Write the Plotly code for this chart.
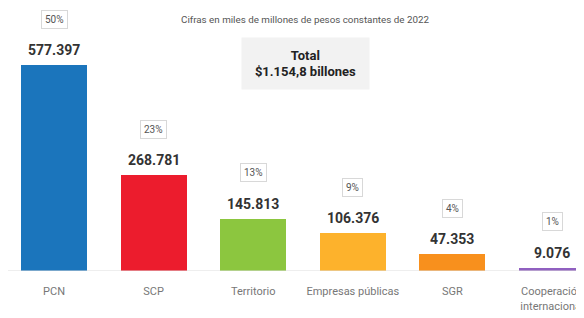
import plotly.graph_objects as go

categories = ["PCN", "SCP", "Territorio", "Empresas públicas", "SGR", "Cooperación<br>internacional"]
values = [577397, 268781, 145813, 106376, 47353, 9076]
percents = [50, 23, 13, 9, 4, 1]
colors = ["#1b75bc", "#ec1c2d", "#8cc63f", "#fdb22c", "#f8901d", "#9060c0"]
subtitle = "Cifras en miles de millones de pesos constantes de 2022"
total_text = "<b>Total<br>$1.154,8 billones</b>"

def fmt(v):
    return f"{v:,}".replace(",", ".")

xs = list(range(len(categories)))

# The page body has an 8px margin, so the figure is sized to fit the window.
W, H = 576, 310
PLOT_H = 263

fig = go.Figure()
fig.add_trace(go.Bar(
    x=xs, y=values, marker=dict(color=colors, line=dict(width=0)),
    width=0.663, hoverinfo="skip", showlegend=False,
))

annotations = []
for i, (v, p) in enumerate(zip(values, percents)):
    annotations.append(dict(
        x=i, y=v, xref="x", yref="y", text=f"<b>{fmt(v)}</b>",
        showarrow=False, yanchor="middle", yshift=15,
        font=dict(family="Roboto", size=14, color="#333333"),
    ))
    annotations.append(dict(
        x=i, y=v, xref="x", yref="y", text=f"{p}%",
        showarrow=False, yanchor="middle", yshift=46,
        font=dict(family="Roboto", size=10, color="#555555"),
        bordercolor="#d8d8d8", borderwidth=1, borderpad=3, bgcolor="white",
    ))

annotations.append(dict(
    x=297 / W, y=1 - 11 / PLOT_H, xref="paper", yref="paper", text=subtitle,
    showarrow=False, xanchor="center", yanchor="middle",
    font=dict(family="Roboto", size=9.8, color="#555555"),
))
annotations.append(dict(
    x=297.5 / W, y=1 - 55.5 / PLOT_H, xref="paper", yref="paper", text=total_text,
    showarrow=False, xanchor="center", yanchor="middle",
    font=dict(family="Roboto", size=13, color="#222222"),
    bgcolor="#f2f2f2", width=123, height=47, borderpad=2,
))

fig.add_shape(type="line", xref="paper", yref="y", x0=0, x1=1, y0=0, y1=0,
              line=dict(color="#dddddd", width=1))

fig.update_layout(
    width=W, height=H,
    margin=dict(l=0, r=0, t=0, b=H - PLOT_H, autoexpand=False),
    paper_bgcolor="white", plot_bgcolor="white",
    annotations=annotations,
    xaxis=dict(
        range=[-0.462, 5.321], tickmode="array", tickvals=xs, ticktext=categories,
        showgrid=False, zeroline=False, showline=False, automargin=False,
        ticks="outside", ticklen=10, tickcolor="rgba(0,0,0,0)",
        tickfont=dict(family="Roboto", size=11, color="#777777"),
        fixedrange=True,
    ),
    yaxis=dict(range=[0, 737160], visible=False, fixedrange=True, automargin=False),
    bargap=0,
)

fig.write_html("out.html", config={"displayModeBar": False})
